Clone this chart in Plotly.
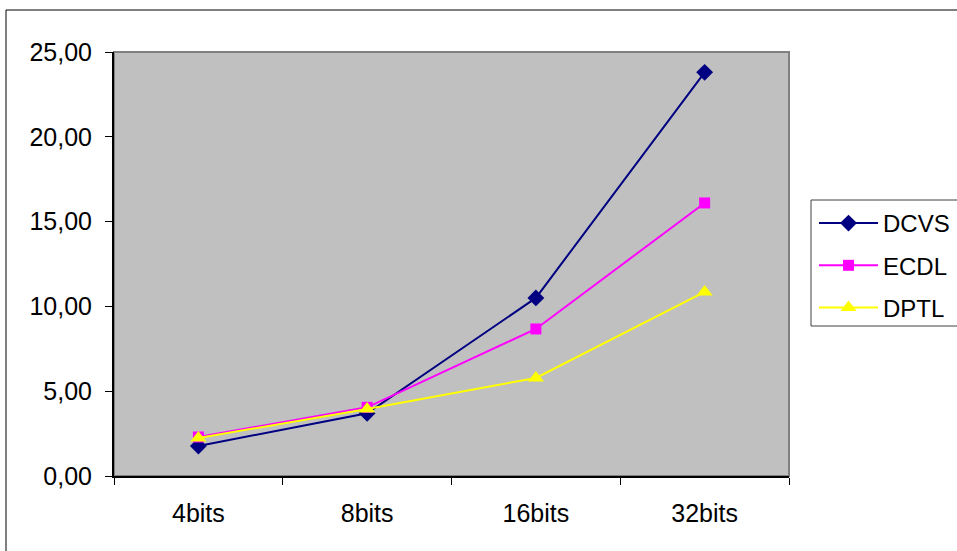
import plotly.graph_objects as go

categories = ["4bits", "8bits", "16bits", "32bits"]
dcvs = [1.77, 3.70, 10.50, 23.80]
ecdl = [2.30, 4.05, 8.67, 16.10]
dptl = [2.24, 3.95, 5.78, 10.85]
y_ticks = [0, 5, 10, 15, 20, 25]

W, H = 957, 551
L, R, T, B = 114, 789, 52, 476
pw, ph = R - L, B - T


def px(x):
    return (x - L) / pw


def py(y):
    return (B - y) / ph


family = "Liberation Sans, Arial, sans-serif"
font = dict(family=family, size=25, color="#000000")

fig = go.Figure()
fig.add_trace(go.Scatter(
    x=categories, y=dcvs, name="DCVS", mode="lines+markers", legendgroup="g1",
    line=dict(color="#000080", width=2),
    marker=dict(symbol="diamond", size=13, color="#000080"),
))
fig.add_trace(go.Scatter(
    x=categories, y=ecdl, name="ECDL", mode="lines+markers", legendgroup="g2",
    line=dict(color="#FF00FF", width=2),
    marker=dict(symbol="square", size=11, color="#FF00FF"),
))
fig.add_trace(go.Scatter(
    x=categories, y=dptl, name="DPTL", mode="lines+markers", legendgroup="g3",
    line=dict(color="#FFFF00", width=2),
    marker=dict(symbol="triangle-up", size=14, color="#FFFF00"),
))

shapes = [
    # chart frame
    dict(type="rect", xref="paper", yref="paper",
         x0=px(6), x1=px(W + 20), y0=py(H + 20), y1=py(10),
         line=dict(color="#000000", width=1), fillcolor="rgba(0,0,0,0)", layer="below"),
    # plot area
    dict(type="rect", xref="paper", yref="paper",
         x0=0, x1=1, y0=0, y1=1,
         line=dict(color="#808080", width=2), fillcolor="#C0C0C0", layer="below"),
    # legend frame
    dict(type="rect", xref="paper", yref="paper",
         x0=px(811), x1=px(W + 20), y0=py(326), y1=py(200),
         line=dict(color="#404040", width=1), fillcolor="#FFFFFF", layer="below"),
]

fig.update_layout(
    width=W, height=H,
    margin=dict(l=L, r=W - R, t=T, b=H - B, autoexpand=False),
    paper_bgcolor="#FFFFFF",
    plot_bgcolor="rgba(0,0,0,0)",
    separators=",.",
    font=font,
    showlegend=True,
    legend=dict(
        x=px(814), y=py(201), xanchor="left", yanchor="top",
        bgcolor="rgba(0,0,0,0)", borderwidth=0,
        font=dict(family=family, size=24, color="#000000"),
        itemwidth=59, tracegroupgap=8,
    ),
    shapes=shapes,
    xaxis=dict(
        type="category", range=[-0.5, 3.5], tickson="boundaries",
        ticks="outside", ticklen=7, tickcolor="#000000", tickwidth=1,
        showline=True, linecolor="#000000", linewidth=2,
        showgrid=False, zeroline=False, ticklabelstandoff=14,
    ),
    yaxis=dict(
        range=[0, 25], tickvals=y_ticks, tickformat=".2f",
        ticks="outside", ticklen=7, tickcolor="#000000", tickwidth=1,
        showline=True, linecolor="#000000", linewidth=2,
        showgrid=False, zeroline=False, ticklabelstandoff=8,
    ),
)

fig.write_html("out.html")
